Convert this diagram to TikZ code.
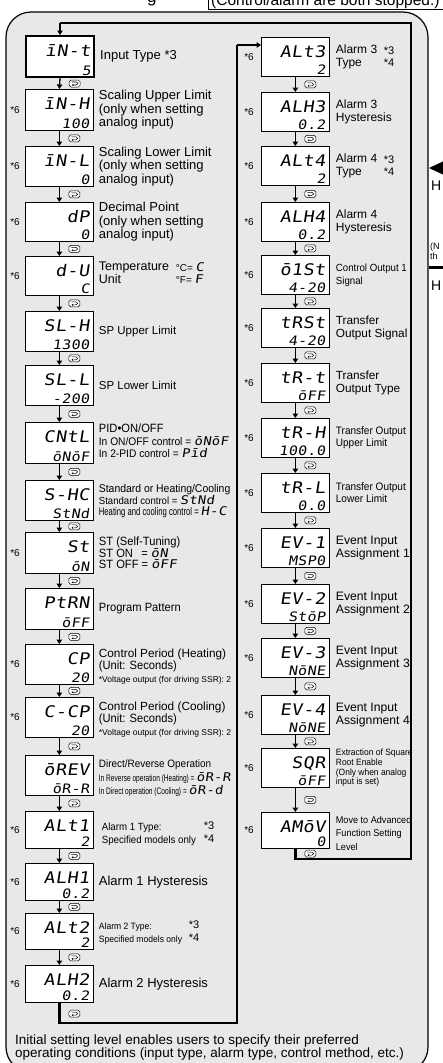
\documentclass[tikz,border=0pt]{standalone}
\usepackage{fontspec}
\setmainfont{Liberation Sans}
\newfontfamily\fB{Liberation Sans}[FakeStretch=0.93]
\newfontfamily\fC{Liberation Sans}[FakeStretch=0.70]
\newfontfamily\segfont{DejaVu Sans Mono}[FakeSlant=0.15,FakeStretch=1.15,LetterSpace=3]
\usetikzlibrary{arrows.meta,calc}
\newcommand\fs[2]{\fontsize{#1}{#2}\selectfont}
\newcommand\sgT{\segfont\fs{16}{16}}
\newcommand\sgB{\segfont\fs{13}{13}}
\newcommand\sg[1]{{\segfont\fs{12}{12}#1}}
\definecolor{panel}{RGB}{231,232,234}
\tikzset{
  dbox/.style={draw, line width=0.7pt, fill=white, minimum width=68pt, inner sep=0pt, anchor=north west},
  segT/.style={anchor=base east, inner sep=0pt, font=\sgT},
  segB/.style={anchor=base east, inner sep=0pt, font=\sgB},
  arr/.style={line width=1.3pt, -{Triangle[length=4.5pt,width=5.5pt]}},
  loopline/.style={line width=2.4pt, line join=miter},
  lab/.style={anchor=west, inner sep=0pt, align=left},
  six/.style={inner sep=0pt, font=\fs{10}{12}},
  keyic/.pic={
    \draw[line width=0.5pt, rounded corners=1.8pt, fill=white] (-5.5,-3.5) rectangle (5.5,3.5);
    \draw[line width=0.55pt, -{Stealth[length=1.8pt,width=2.2pt]}] (-3,-1.5) -- (1.6,-1.5) .. controls (3.9,-1.5) and (3.9,1.5) .. (1.6,1.5) -- (-2.8,1.5);
  }
}
\newcommand\disp[6]{%
  \node[dbox, minimum height=#4pt] (#1) at (#2,#3) {};
  \node[segT] (#1t) at ([shift={(-4pt,-20pt)}]#1.north east) {#5};
  \node[segB] (#1b) at ([shift={(-4pt,2.5pt)}]#1.south east) {#6};}
\newcommand\link[2]{%
  \draw[arr] (#1.south) -- (#2.north);
  \pic at ($(#1.south)!0.5!(#2.north)+(15,0)$) {keyic};}
\begin{document}
\begin{tikzpicture}[x=1pt,y=-1pt]
\useasboundingbox (0,0) rectangle (442,1063);
% outside elements
\node[anchor=base west, inner sep=0pt, font=\fs{17}{17}] (gtail) at (147,2) {g};
\draw[line width=0.8pt] (208,-20) -- (208,9) -- (446,9);
\node[anchor=base west, inner sep=0pt, font=\fs{15.5}{15.5}] (stopped) at (211,5) {(Control/alarm are both stopped.)};
\fill (429,168) -- (444,161) -- (444,175) -- cycle;
\node[anchor=base west, inner sep=0pt, font=\fs{14}{14}] (h1) at (431,190) {H};
\node[anchor=base west, inner sep=0pt, font=\fs{9}{10}] (n1) at (430,249) {(N};
\node[anchor=base west, inner sep=0pt, font=\fs{9}{10}] (th1) at (430,259) {th};
\draw[line width=3pt] (429,267) -- (446,267);
\node[anchor=base west, inner sep=0pt, font=\fs{14}{14}] (h2) at (431,290) {H};
% panel
\draw[line width=1.2pt, fill=panel, rounded corners=25pt] (6,12) rectangle (428,1072);
% left column
\node[dbox, line width=2pt, minimum height=41pt] (int) at (25,35) {};
\node[segT] (intt) at ([shift={(-4pt,-21pt)}]int.north east) {īN-t};
\node[segB] (intb) at ([shift={(-4pt,2.5pt)}]int.south east) {5};
\disp{inh}{25}{89}{41}{īN-H}{100}
\disp{inl}{25}{146}{40}{īN-L}{0}
\disp{dp}{25}{202}{39}{dP}{0}
\disp{du}{25}{256}{39}{d-U}{C}
\disp{slh}{25}{311}{40}{SL-H}{1300}
\disp{sll}{25}{365}{40}{SL-L}{-200}
\disp{cntl}{25}{422}{41}{CNtL}{ōNōF}
\disp{shc}{25}{480}{40}{S-HC}{StNd}
\disp{st}{25}{532}{41}{St}{ōN}
\disp{ptrn}{25}{588}{41}{PtRN}{ōFF}
\disp{cp}{25}{644}{40}{CP}{20}
\disp{ccp}{25}{697}{40}{C-CP}{20}
\disp{orev}{25}{755}{40}{ōREV}{ōR-R}
\disp{alt1}{25}{811}{37}{ALt1}{2}
\disp{alh1}{25}{863}{37}{ALH1}{0.2}
\disp{alt2}{25}{913}{36}{ALt2}{2}
\disp{alh2}{25}{965}{37}{ALH2}{0.2}
% right column
\disp{alt3}{261}{37}{39}{ALt3}{2}
\disp{alh3}{261}{92}{39}{ALH3}{0.2}
\disp{alt4}{261}{146}{39}{ALt4}{2}
\disp{alh4}{261}{202}{39}{ALH4}{0.2}
\disp{oist}{261}{255}{39}{ō1St}{4-20}
\disp{trst}{261}{308}{39}{tRSt}{4-20}
\disp{trt}{261}{363}{39}{tR-t}{ōFF}
\disp{trh}{261}{418}{39}{tR-H}{100.0}
\disp{trl}{261}{473}{39}{tR-L}{0.0}
\disp{evi}{261}{528}{39}{EV-1}{MSP0}
\disp{evii}{261}{584}{39}{EV-2}{StōP}
\disp{eviii}{261}{638}{39}{EV-3}{NōNE}
\disp{eviv}{261}{695}{39}{EV-4}{NōNE}
\disp{sqr}{261}{748}{39}{SQR}{ōFF}
\disp{amov}{261}{812}{36}{AMōV}{0}
% links
\link{int}{inh}\link{inh}{inl}\link{inl}{dp}\link{dp}{du}\link{du}{slh}
\link{slh}{sll}\link{sll}{cntl}\link{cntl}{shc}\link{shc}{st}\link{st}{ptrn}
\link{ptrn}{cp}\link{cp}{ccp}\link{ccp}{orev}\link{orev}{alt1}\link{alt1}{alh1}
\link{alh1}{alt2}\link{alt2}{alh2}
\link{alt3}{alh3}\link{alh3}{alt4}\link{alt4}{alh4}\link{alh4}{oist}\link{oist}{trst}
\link{trst}{trt}\link{trt}{trh}\link{trh}{trl}\link{trl}{evi}\link{evi}{evii}
\link{evii}{eviii}\link{eviii}{eviv}\link{eviv}{sqr}\link{sqr}{amov}
% loops
\coordinate (cL1) at (237,1023);
\coordinate (cL2) at (237,45);
\draw[loopline] (alh2.south) -- (alh2.south |- cL1) -- (cL1) -- (cL2);
\draw[arr] (cL2) -- (cL2 -| alt3.west);
\pic at ($(alh2.south)+(15,11)$) {keyic};
\coordinate (cR1) at (411,859);
\coordinate (cR2) at (411,23);
\draw[loopline] (amov.south) -- (amov.south |- cR1) -- (cR1) -- (cR2) -- (cR2 -| int.north);
\draw[arr] (cR2 -| int.north) -- (int.north);
\pic at ($(amov.south)+(15,5)$) {keyic};
% *6 marks
\foreach \n in {inh,inl,dp,du,st,cp,ccp,alt1,alh1,alt2,alh2}{\node[six] (\n six) at ([xshift=-10pt]\n.west) {*6};}
\foreach \n in {alt3,alh3,alt4,alh4,oist,trst,trt,trh,trl,evi,evii,eviii,eviv,sqr,amov}{\node[six] (\n six) at ([xshift=-12pt]\n.west) {*6};}
% left labels
\node[lab, font=\fs{13}{13}] (intL) at ([xshift=5pt]int.east) {Input Type *3};
\node[lab, font=\fs{13}{13.3}] (inhL) at ([xshift=5pt]inh.east) {Scaling Upper Limit\\(only when setting\\analog input)};
\node[lab, font=\fs{13}{13.3}] (inlL) at ([xshift=5pt]inl.east) {Scaling Lower Limit\\(only when setting\\analog input)};
\node[lab, font=\fs{13}{13.3}] (dpL) at ([xshift=5pt]dp.east) {Decimal Point\\(only when setting\\analog input)};
\node[lab, font=\fs{12.5}{11.5}] (duL) at ([shift={(5pt,3pt)}]du.east) {Temperature\\Unit};
\node[lab, font=\fs{10}{11.5}] (duR) at ([shift={(82pt,3pt)}]du.east) {°C= \sg{C}\\°F= \sg{F}};
\node[lab, font=\fs{11.5}{12}] (slhL) at ([xshift=5pt]slh.east) {SP Upper Limit};
\node[lab, font=\fs{11.5}{12}] (sllL) at ([xshift=5pt]sll.east) {SP Lower Limit};
\node[lab, font=\fB\fs{11}{12.5}] (cntlL) at ([shift={(5pt,2pt)}]cntl.east) {{\fs{12}{12.5}PID•ON/OFF}\\In ON/OFF control = \sg{ōNōF}\\In 2-PID control = \sg{Pīd}};
\node[lab, font=\fB\fs{10.5}{11.5}] (shcL) at ([shift={(5pt,-1pt)}]shc.east) {{\fs{11.2}{11.5}Standard or Heating/Cooling}\\{\fs{10.3}{11.5}Standard control = }\sg{StNd}\\{\fC\fs{11}{11.5}Heating and cooling control = }\sg{H-C}};
\node[lab, font=\fB\fs{12}{11.7}] (stL) at ([xshift=5pt]st.east) {ST (Self-Tuning)\\ST ON\hspace{5.2pt} = \sg{ōN}\\ST OFF = \sg{ōFF}};
\node[lab, font=\fB\fs{12}{12}] (ptrnL) at ([xshift=5pt]ptrn.east) {Program Pattern};
\node[lab, font=\fs{11.8}{12.5}] (cpL) at ([shift={(5pt,-2pt)}]cp.east) {Control Period (Heating)\\{\fB\fs{12}{12.5}(Unit: Seconds)}\\{\fs{8.5}{12.5}*Voltage output (for driving SSR): 2}};
\node[lab, font=\fs{11.8}{12.5}] (ccpL) at ([shift={(5pt,-2pt)}]ccp.east) {Control Period (Cooling)\\{\fB\fs{12}{12.5}(Unit: Seconds)}\\{\fs{8.5}{12.5}*Voltage output (for driving SSR): 2}};
\node[lab, font=\fs{10}{13.5}] (orevL) at ([shift={(5pt,-3pt)}]orev.east) {{\fB\fs{10.7}{13.5}Direct/Reverse Operation}\\{\fC\fs{9.4}{13.5}In Reverse operation (Heating) = }\sg{ōR-R}\\{\fC\fs{9.4}{13.5}In Direct operation (Cooling) = }\sg{ōR-d}};
\node[lab, font=\fB\fs{10.4}{13}] (alt1L) at ([shift={(8pt,-4pt)}]alt1.east) {Alarm 1 Type:\\Specified models only};
\node[lab, font=\fs{11}{13}] (alt1S) at ([shift={(110pt,-2pt)}]alt1.east) {*3\\*4};
\node[lab, font=\fs{13}{13}] (alh1L) at ([xshift=5pt]alh1.east) {Alarm 1 Hysteresis};
\node[lab, font=\fB\fs{9.2}{13}] (alt2L) at ([shift={(5pt,-2pt)}]alt2.east) {Alarm 2 Type:\\Specified models only};
\node[lab, font=\fs{11}{13}] (alt2S) at ([shift={(95pt,0pt)}]alt2.east) {*3\\*4};
\node[lab, font=\fs{13}{13}] (alh2L) at ([xshift=5pt]alh2.east) {Alarm 2 Hysteresis};
% right labels
\node[lab, font=\fs{12}{12.5}] (alt3L) at ([xshift=6pt]alt3.east) {Alarm 3\\Type};
\node[lab, font=\fs{11}{12.5}] (alt3S) at ([xshift=54pt]alt3.east) {*3\\*4};
\node[lab, font=\fs{12}{12.5}] (alh3L) at ([xshift=6pt]alh3.east) {Alarm 3\\Hysteresis};
\node[lab, font=\fs{12}{12.5}] (alt4L) at ([xshift=6pt]alt4.east) {Alarm 4\\Type};
\node[lab, font=\fs{11}{12.5}] (alt4S) at ([xshift=54pt]alt4.east) {*3\\*4};
\node[lab, font=\fs{12}{12.5}] (alh4L) at ([xshift=6pt]alh4.east) {Alarm 4\\Hysteresis};
\node[lab, font=\fB\fs{10.4}{13}] (oistL) at ([xshift=6pt]oist.east) {Control Output 1\\Signal};
\node[lab, font=\fs{11.8}{12.5}] (trstL) at ([xshift=6pt]trst.east) {Transfer\\Output Signal};
\node[lab, font=\fs{11.8}{12.5}] (trtL) at ([xshift=6pt]trt.east) {Transfer\\Output Type};
\node[lab, font=\fB\fs{10.8}{12.5}] (trhL) at ([xshift=6pt]trh.east) {Transfer Output\\Upper Limit};
\node[lab, font=\fB\fs{10.8}{12.5}] (trlL) at ([xshift=6pt]trl.east) {Transfer Output\\Lower Limit};
\node[lab, font=\fs{12.2}{13}] (eviL) at ([xshift=6pt]evi.east) {Event Input\\Assignment 1};
\node[lab, font=\fs{12.2}{13}] (eviiL) at ([xshift=6pt]evii.east) {Event Input\\Assignment 2};
\node[lab, font=\fs{12.2}{13}] (eviiiL) at ([xshift=6pt]eviii.east) {Event Input\\Assignment 3};
\node[lab, font=\fs{12.2}{13}] (evivL) at ([xshift=6pt]eviv.east) {Event Input\\Assignment 4};
\node[lab, font=\fB\fs{9.1}{9.7}] (sqrL) at ([xshift=6pt]sqr.east) {Extraction of Square\\Root Enable\\(Only when analog\\input is set)};
\node[lab, font=\fB\fs{9.8}{13.3}] (amovL) at ([shift={(6pt,-3pt)}]amov.east) {Move to Advanced\\Function Setting\\Level};
% footer
\node[anchor=base west, inner sep=0pt, font=\fs{13.5}{13}] (foot1) at (15,1044.5) {Initial setting level enables users to specify their preferred};
\node[anchor=base west, inner sep=0pt, font=\fs{13.5}{13}] (foot2) at (15,1057.5) {operating conditions (input type, alarm type, control method, etc.)};
\end{tikzpicture}
\end{document}
